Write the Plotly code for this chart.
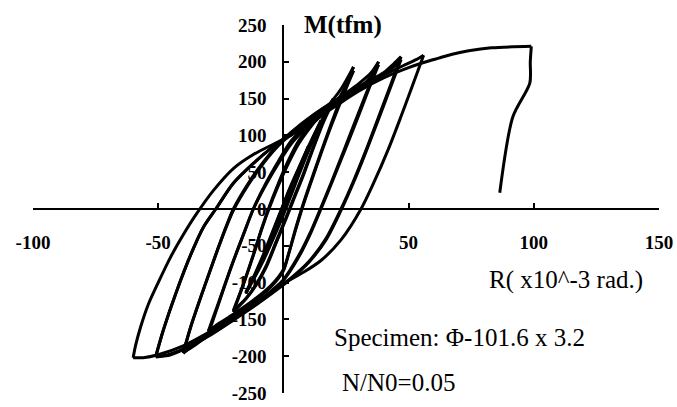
import plotly.graph_objects as go

# ---- Data (R in 1e-3 rad, M in tfm) ----
# path segments in loading order (each list pair = one branch of the loop)
b01_r = [0, 2.5, 5]
b01_m = [0, 21, 41]
b02_r = [5, 2, 0, -2, -5]
b02_m = [41, 14, -4, -20, -41]
b03_r = [-5, -2, 0, 3, 6, 10]
b03_m = [-41, -14, 4, 28, 52, 85]
b04_r = [10, 7, 4, 1, -2, -6, -10]
b04_m = [85, 60, 32, 5, -20, -50, -82]
c04a_r = [-10, -7, -4, -1, 2, 6, 10]
c04a_m = [-82, -58, -32, -6, 20, 50, 82]
c04b_r = [10, 7, 4, 1, -2, -6, -10]
c04b_m = [82, 58, 30, 4, -22, -52, -80]
b05_r = [-10, -7, -4, -1, 2, 6, 10, 15]
b05_m = [-80, -57, -30, -3, 24, 55, 85, 120]
b06_r = [15, 12, 8, 4, 0, -4, -8, -12, -15]
b06_m = [120, 98, 65, 30, -5, -38, -68, -95, -115]
c06a_r = [-15, -12, -8, -4, 0, 4, 8, 12, 15]
c06a_m = [-115, -94, -64, -30, 4, 36, 66, 95, 117]
c06b_r = [15, 12, 8, 4, 0, -4, -8, -12, -15]
c06b_m = [117, 95, 62, 27, -8, -40, -70, -96, -113]
b07_r = [-15, -12, -8, -4, 0, 4, 8, 12, 16, 20]
b07_m = [-113, -93, -62, -28, 6, 38, 68, 97, 125, 150]
b08_r = [20, 16, 12, 8, 4, 1, -3, -7, -11, -15, -20]
b08_m = [150, 120, 85, 48, 14, -12, -45, -78, -103, -122, -140]
c08a_r = [-20, -16, -12, -9, -6, -2, 2, 6, 11, 16, 20]
c08a_m = [-140, -103, -63, -31, -2, 32, 62, 88, 112, 132, 147]
c08b_r = [20, 16, 12, 8, 4, 1, -3, -7, -11, -15, -20]
c08b_m = [147, 118, 83, 46, 12, -14, -47, -80, -104, -122, -138]
b09_r = [-20, -16, -12, -9, -6, -2, 2, 6, 11, 17, 23, 28]
b09_m = [-138, -102, -62, -30, 0, 35, 66, 92, 115, 137, 163, 193]
b10_r = [28, 24, 19, 15, 11, 8, 5, 2, 0, -5, -12, -20, -26, -30]
b10_m = [193, 160, 115, 77, 38, 8, -25, -62, -84, -106, -126, -145, -158, -170]
c10a_r = [-30, -26, -21, -16, -12, -7, -2, 3, 8, 15, 22, 28]
c10a_m = [-170, -130, -80, -35, 0, 33, 62, 88, 106, 126, 150, 188]
c10b_r = [28, 24, 19, 15, 11, 8, 5, 2, 0, -5, -12, -20, -26, -30]
c10b_m = [188, 155, 112, 75, 36, 6, -27, -62, -82, -104, -124, -143, -156, -166]
b11_r = [-30, -26, -21, -16, -12, -7, -2, 3, 8, 15, 22, 30, 35, 38]
b11_m = [-166, -128, -80, -35, 0, 35, 65, 92, 110, 130, 150, 170, 185, 200]
b12_r = [38, 34, 29, 24, 19, 15, 11, 6, 0, -8, -16, -24, -32, -37, -40]
b12_m = [200, 165, 122, 78, 35, 2, -30, -64, -96, -120, -140, -158, -176, -188, -196]
c12a_r = [-40, -37, -32, -27, -23, -20, -14, -8, -2, 3, 12, 22, 30, 35, 38]
c12a_m = [-196, -160, -110, -62, -26, -2, 33, 62, 86, 101, 124, 146, 163, 180, 196]
c12b_r = [38, 34, 29, 24, 19, 15, 11, 6, 0, -8, -16, -24, -32, -37, -40]
c12b_m = [196, 162, 118, 75, 33, 0, -32, -66, -97, -121, -141, -159, -177, -189, -195]
b13_r = [-40, -37, -32, -27, -23, -20, -14, -8, -2, 3, 12, 22, 32, 40, 44, 47]
b13_m = [-195, -160, -110, -62, -25, 0, 35, 64, 88, 104, 128, 150, 170, 185, 197, 207]
b14_r = [47, 43, 38, 33, 28, 23, 17, 10, 3, 0, -10, -20, -30, -40, -46, -51]
b14_m = [207, 170, 125, 80, 38, 0, -40, -72, -94, -102, -127, -150, -172, -190, -198, -201]
c14a_r = [-51, -48, -43, -37, -32, -27, -20, -12, -4, 2, 10, 20, 30, 38, 44, 47]
c14a_m = [-201, -165, -115, -62, -25, 0, 35, 62, 85, 100, 121, 144, 162, 178, 193, 203]
c14b_r = [47, 43, 38, 33, 28, 23, 17, 10, 3, 0, -10, -20, -30, -40, -46, -51]
c14b_m = [203, 167, 122, 78, 36, -2, -42, -73, -95, -103, -128, -151, -173, -191, -199, -200]
b15_r = [-51, -48, -43, -37, -32, -27, -20, -12, -4, 2, 10, 20, 30, 40, 48, 53, 56]
b15_m = [-200, -165, -115, -62, -25, 0, 35, 62, 85, 100, 122, 146, 165, 182, 195, 203, 209]
b16_r = [56, 52, 47, 42, 36, 31, 23, 15, 8, 0, -10, -20, -30, -40, -50, -56, -60]
b16_m = [209, 172, 126, 82, 35, 0, -42, -70, -86, -101, -125, -148, -168, -186, -198, -202, -202]
b17_r = [-60, -59, -57, -54, -50, -45, -40, -35, -28, -20, -12, -4, 3, 10, 20, 30, 40, 50, 56, 62, 67, 74, 83, 99]
b17_m = [-202, -185, -160, -130, -100, -65, -35, -8, 25, 55, 74, 88, 100, 116, 138, 160, 178, 192, 199, 205, 210, 215, 219, 221]
b18_r = [99, 98.6, 98.4, 91.6, 86.4]
b18_m = [221, 200, 171, 125, 22]

x_ticks = [-100, -50, 50, 100, 150]
y_ticks = [-250, -200, -150, -100, -50, 0, 50, 100, 150, 200, 250]

branches = [
    (b01_r, b01_m), (b02_r, b02_m), (b03_r, b03_m), (b04_r, b04_m),
    (c04a_r, c04a_m), (c04b_r, c04b_m),
    (b05_r, b05_m), (b06_r, b06_m), (c06a_r, c06a_m), (c06b_r, c06b_m),
    (b07_r, b07_m), (b08_r, b08_m), (c08a_r, c08a_m), (c08b_r, c08b_m),
    (b09_r, b09_m), (b10_r, b10_m), (c10a_r, c10a_m), (c10b_r, c10b_m),
    (b11_r, b11_m), (b12_r, b12_m), (c12a_r, c12a_m), (c12b_r, c12b_m),
    (b13_r, b13_m), (b14_r, b14_m), (c14a_r, c14a_m), (c14b_r, c14b_m),
    (b15_r, b15_m), (b16_r, b16_m),
    (b17_r, b17_m), (b18_r, b18_m),
]

SERIF = "Liberation Serif, Times New Roman, serif"

fig = go.Figure()
for r, m in branches:
    fig.add_trace(go.Scatter(
        x=r, y=m, mode="lines",
        line=dict(color="black", width=3, shape="spline", smoothing=0.8),
        showlegend=False, hoverinfo="skip",
    ))

fig.update_layout(
    width=677, height=407,
    margin=dict(l=33, r=18, t=25, b=14),
    paper_bgcolor="white", plot_bgcolor="white",
    showlegend=False,
    xaxis=dict(
        range=[-100, 150], anchor="free", position=0.5, automargin=False,
        showline=True, linecolor="black", linewidth=2,
        ticks="inside", ticklen=5, tickwidth=2, tickcolor="black",
        tickvals=x_ticks, ticktext=[str(v) for v in x_ticks],
        showgrid=False, zeroline=False,
        tickfont=dict(family=SERIF, size=19, color="black", weight="bold"),
        ticklabelstandoff=16, layer="below traces",
    ),
    yaxis=dict(
        range=[-250, 250], anchor="free", position=0.4, automargin=False,
        showline=True, linecolor="black", linewidth=2,
        ticks="inside", ticklen=5, tickwidth=2, tickcolor="black",
        tickvals=y_ticks, ticktext=[str(v) for v in y_ticks],
        showgrid=False, zeroline=False,
        tickfont=dict(family=SERIF, size=19, color="black", weight="bold"),
        ticklabelstandoff=12, layer="below traces",
    ),
    annotations=[
        dict(x=7.6, y=250, xref="x", yref="y", text="<b>M(tfm)</b>",
             showarrow=False, xanchor="left", yanchor="middle",
             font=dict(family=SERIF, size=25, color="black")),
        dict(x=144.6, y=-96.5, xref="x", yref="y", text="R( x10^-3 rad.)",
             showarrow=False, xanchor="right", yanchor="middle",
             font=dict(family=SERIF, size=25, color="black")),
        dict(x=19.6, y=-174, xref="x", yref="y", text="Specimen: Φ-101.6 x 3.2",
             showarrow=False, xanchor="left", yanchor="middle",
             font=dict(family=SERIF, size=25, color="black")),
        dict(x=22.8, y=-236, xref="x", yref="y", text="N/N0=0.05",
             showarrow=False, xanchor="left", yanchor="middle",
             font=dict(family=SERIF, size=25, color="black")),
    ],
)

fig.write_html("out.html", config={"displayModeBar": False},
               post_script="document.body.style.margin='0';")
